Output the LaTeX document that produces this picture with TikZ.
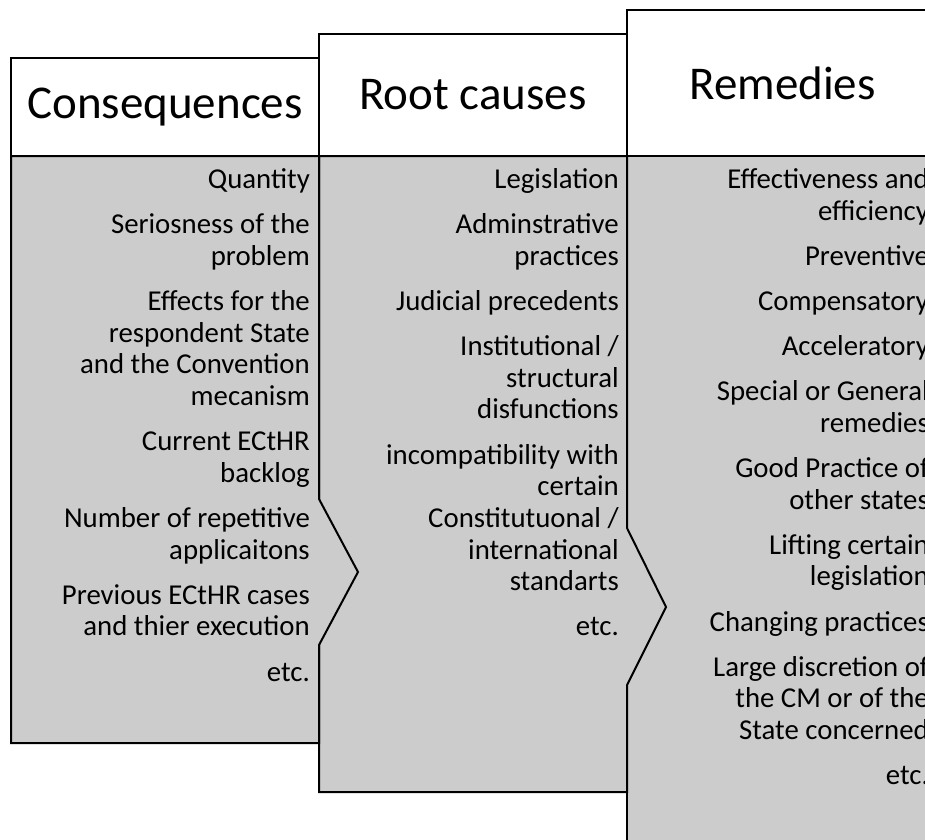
\documentclass[tikz,border=0pt]{standalone}
\usepackage{fontspec}
\setmainfont{Carlito}
\definecolor{panel}{RGB}{204,204,204}
\tikzset{
  frame/.style={draw=black, line width=2pt, line join=miter},
  headbox/.style={frame, fill=white},
  bodybox/.style={frame, fill=panel},
  headtext/.style={inner sep=0pt, font=\fontsize{47}{56}\selectfont},
  listtext/.style={inner sep=0pt, anchor=base east},
}
\newcommand{\itemlist}[1]{\parbox[t]{400pt}{\raggedleft\fontsize{28.8}{31.7}\selectfont\parskip=13.4pt #1}}
\begin{document}
\begin{tikzpicture}[x=1pt, y=-1pt]
\useasboundingbox (0,0) rectangle (925,839);
\clip (0,0) rectangle (925,839);

% third column: Remedies
\draw[bodybox] (627,156) rectangle (938,900);
\draw[headbox] (627,10) rectangle (938,156);
\node[headtext] (hrem) at (782.5,83) {Remedies};

% second column: Root causes, pointing into the third
\draw[bodybox] (319,156) -- (627,156) -- (627,528) -- (666,607) -- (627,685)
  -- (627,792) -- (319,792) -- cycle;
\draw[headbox] (319,34) rectangle (627,156);
\node[headtext] (hroot) at (473,95) {Root causes};

% first column: Consequences, pointing into the second
\draw[bodybox] (11,156) -- (319,156) -- (319,499) -- (358,572) -- (319,645)
  -- (319,743) -- (11,743) -- cycle;
\draw[headbox] (11,58) rectangle (319,156);
\node[headtext] (hcons) at (165,107) {Consequences};

% item lists
\node[listtext] (lcons) at (310,188.5) {\itemlist{%
Quantity\par
Seriosness of the\\ problem\par
Effects for the\\ respondent State\\ and the Convention\\ mecanism\par
Current ECtHR\\ backlog\par
Number of repetitive\\ applicaitons\par
Previous ECtHR cases\\ and thier execution\par
etc.}};

\node[listtext] (lroot) at (619,188.5) {\itemlist{%
Legislation\par
Adminstrative\\ practices\par
Judicial precedents\par
Institutional /\\ structural\\ disfunctions\par
incompatibility with\\ certain\\ Constitutuonal /\\ international\\ standarts\par
etc.}};

\node[listtext] (lrem) at (929,188.5) {\itemlist{%
Effectiveness and\\ efficiency\par
Preventive\par
Compensatory\par
Acceleratory\par
Special or General\\ remedies\par
Good Practice of\\ other states\par
Lifting certain\\ legislation\par
Changing practices\par
Large discretion of\\ the CM or of the\\ State concerned\par
etc.}};
\end{tikzpicture}
\end{document}
